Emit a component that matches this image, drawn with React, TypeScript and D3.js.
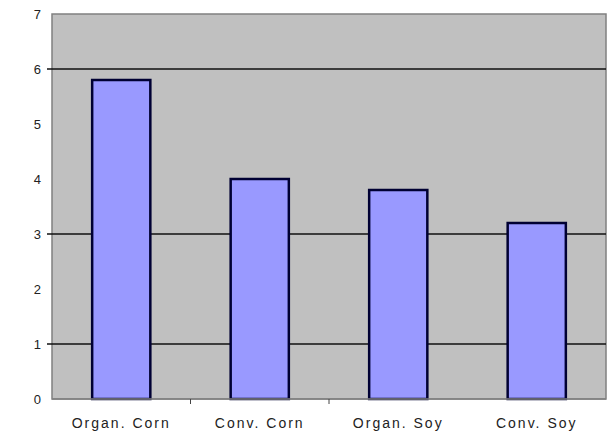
import React from "react";
import * as d3 from "d3";

const categories = ["Organ. Corn", "Conv. Corn", "Organ. Soy", "Conv. Soy"];
const values = [5.8, 4.0, 3.8, 3.2];
const yTicks = [0, 1, 2, 3, 4, 5, 6, 7];
const gridValues = [1, 3, 6];

const W = 609;
const H = 448;
const plot = { left: 52, right: 606, top: 14, bottom: 399 };

export default function App() {
  const x = d3
    .scaleBand<string>()
    .domain(categories)
    .range([plot.left, plot.right])
    .paddingInner(0.58)
    .paddingOuter(0.29);
  const y = d3.scaleLinear().domain([0, 7]).range([plot.bottom, plot.top]);
  const step = x.step();
  const boundaries = categories.slice(1, 3).map((c) => (x(c) as number) - (step - x.bandwidth()) / 2);

  return (
    <svg
      width={W}
      height={H}
      style={{ position: "fixed", left: 0, top: 0, background: "#fff" }}
      fontFamily="Arial, 'Liberation Sans', sans-serif"
    >
      <rect x={0} y={0} width={W} height={H} fill="#fff" />
      <rect
        x={plot.left}
        y={plot.top}
        width={plot.right - plot.left}
        height={plot.bottom - plot.top}
        fill="#c0c0c0"
        stroke="#808080"
        strokeWidth={1.5}
      />
      {gridValues.map((v) => (
        <line key={v} x1={47} x2={plot.right} y1={y(v)} y2={y(v)} stroke="#111" strokeWidth={1.5} />
      ))}
      {values.map((v, i) => (
        <rect
          key={categories[i]}
          x={x(categories[i])}
          y={y(v)}
          width={x.bandwidth()}
          height={plot.bottom - y(v)}
          fill="#9999ff"
          stroke="#000033"
          strokeWidth={2.5}
        />
      ))}
      <line x1={plot.left} x2={plot.right} y1={plot.bottom} y2={plot.bottom} stroke="#808080" strokeWidth={1.5} />
      {boundaries.map((b, i) => (
        <line key={i} x1={b} x2={b} y1={plot.bottom} y2={plot.bottom + 5} stroke="#444" strokeWidth={1} />
      ))}
      {yTicks.map((t) => (
        <text key={t} x={41} y={y(t)} dy="0.35em" textAnchor="end" fontSize={13} fill="#222">
          {t}
        </text>
      ))}
      {categories.map((c) => (
        <text
          key={c}
          x={(x(c) as number) + x.bandwidth() / 2}
          y={428}
          textAnchor="middle"
          fontSize={14}
          letterSpacing={2}
          fill="#222"
        >
          {c}
        </text>
      ))}
    </svg>
  );
}
